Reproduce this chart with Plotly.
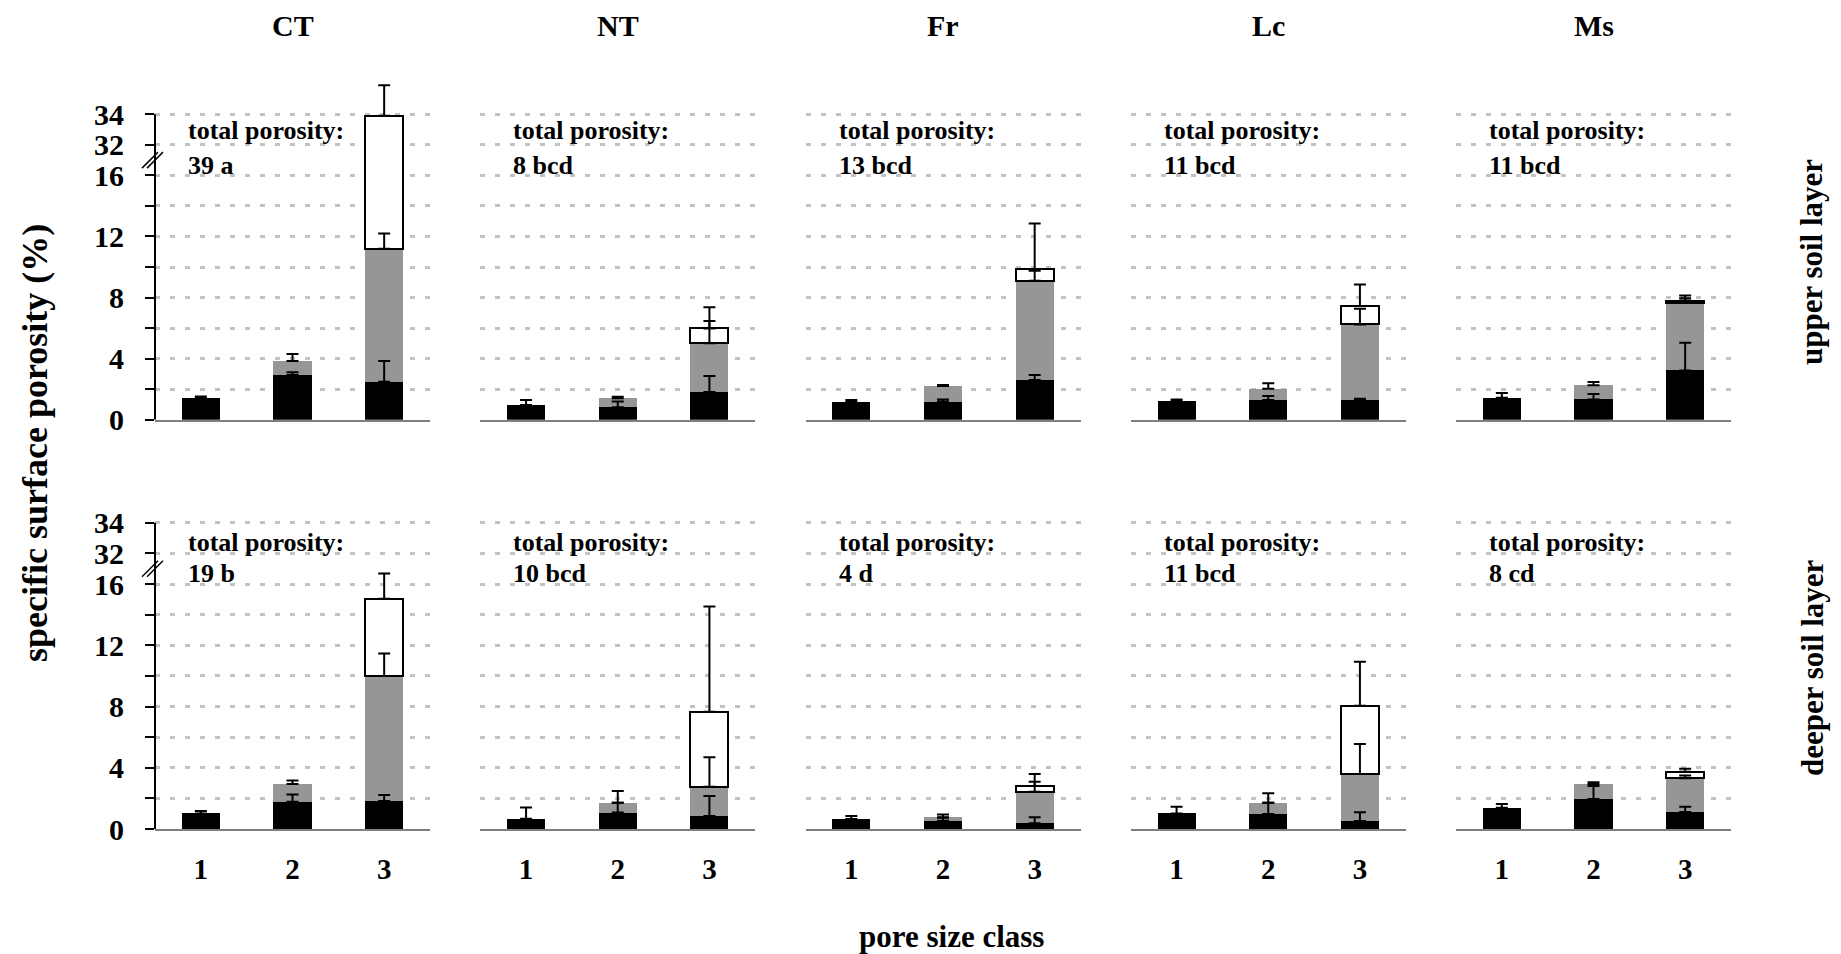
import numpy as np
import plotly.graph_objects as go

# ---------------- data ----------------
treatments = ["CT", "NT", "Fr", "Lc", "Ms"]
pore_classes = ["1", "2", "3"]
layer_labels = ["upper soil layer", "deeper soil layer"]

# segment heights (%), one list of 3 pore classes per treatment
upper_black = [[1.44, 2.93, 2.49], [0.96, 0.81, 1.81], [1.18, 1.18, 2.60], [1.22, 1.29, 1.29], [1.44, 1.33, 3.23]]
upper_grey = [[0.0, 0.91, 8.71], [0.0, 0.59, 3.19], [0.0, 1.02, 6.50], [0.0, 0.74, 4.95], [0.0, 0.92, 4.43]]
upper_white = [[0.0, 0.0, 22.70], [0.0, 0.0, 0.98], [0.0, 0.0, 0.75], [0.0, 0.0, 1.21], [0.0, 0.0, 0.14]]
upper_black_err = [[0.08, 0.17, 1.35], [0.33, 0.39, 1.05], [0.11, 0.15, 0.33], [0.11, 0.26, 0.08], [0.31, 0.35, 1.81]]
upper_grey_err = [[0.0, 0.46, 1.00], [0.0, 0.10, 1.46], [0.0, 0.07, 0.65], [0.0, 0.35, 1.03], [0.0, 0.22, 0.29]]
upper_white_err = [[0.0, 0.0, 2.00], [0.0, 0.0, 1.38], [0.0, 0.0, 3.00], [0.0, 0.0, 1.41], [0.0, 0.0, 0.34]]

deeper_black = [[1.02, 1.78, 1.83], [0.67, 1.07, 0.85], [0.65, 0.54, 0.37], [1.02, 0.98, 0.52], [1.39, 1.96, 1.11]]
deeper_grey = [[0.0, 1.16, 8.16], [0.0, 0.65, 1.91], [0.0, 0.22, 2.07], [0.0, 0.74, 3.07], [0.0, 0.98, 2.20]]
deeper_white = [[0.0, 0.0, 5.05], [0.0, 0.0, 4.90], [0.0, 0.0, 0.37], [0.0, 0.0, 4.46], [0.0, 0.0, 0.43]]
deeper_black_err = [[0.16, 0.48, 0.39], [0.74, 0.65, 1.30], [0.20, 0.20, 0.39], [0.44, 0.74, 0.57], [0.24, 0.85, 0.35]]
deeper_grey_err = [[0.0, 0.22, 1.48], [0.0, 0.76, 1.92], [0.0, 0.18, 0.65], [0.0, 0.61, 1.96], [0.0, 0.11, 0.19]]
deeper_white_err = [[0.0, 0.0, 1.65], [0.0, 0.0, 6.88], [0.0, 0.0, 0.78], [0.0, 0.0, 2.87], [0.0, 0.0, 0.20]]

total_upper = ["39 a", "8 bcd", "13 bcd", "11 bcd", "11 bcd"]
total_deeper = ["19 b", "10 bcd", "4 d", "11 bcd", "8 cd"]

low_ticks = [0, 2, 4, 6, 8, 10, 12, 14, 16]
low_labels = ["0", "", "4", "", "8", "", "12", "", "16"]
up_ticks = [32, 34]
up_labels = ["32", "34"]

# ---------------- layout geometry (px in the photographed page) ----------------
W, H = 1841, 954
PAGE_OFFSET = 8.0          # default body margin of the html page
COL_X0, COL_PITCH, PANEL_W = 155.0, 325.25, 275.0
ROW_ZERO = [419.7, 829.0]
PPU = [15.27, 15.31]
LOW_MAX = 17.0
UP_MIN = 31.0
UP_MAX = [36.3, 34.5]

FONT = "Liberation Serif"
BLACK, GREY, GRIDC = "#000000", "#969696", "#c3c3c3"
PAD = "\u00a0\u00a0"


def px_x(p):
    return (p - PAGE_OFFSET) / W


def px_y(p):
    return 1 - (p - PAGE_OFFSET) / H


rows = [
    (upper_black, upper_grey, upper_white, upper_black_err, upper_grey_err, upper_white_err, total_upper),
    (deeper_black, deeper_grey, deeper_white, deeper_black_err, deeper_grey_err, deeper_white_err, total_deeper),
]

fig = go.Figure()
layout = {}
shapes = []
annotations = []

for r, (blk, gry, wht, blk_e, gry_e, wht_e, totals) in enumerate(rows):
    zero = ROW_ZERO[r]
    ppu = PPU[r]
    brk_px = zero - LOW_MAX * ppu
    top_px = brk_px - (UP_MAX[r] - UP_MIN) * ppu
    for c in range(5):
        idx = r * 5 + c
        n_low, n_up = 2 * idx + 1, 2 * idx + 2
        x0 = COL_X0 + c * COL_PITCH
        xdom = [px_x(x0), px_x(x0 + PANEL_W)]

        b = np.array(blk[c], dtype=float)
        g = np.array(gry[c], dtype=float)
        w = np.array(wht[c], dtype=float)
        tops = [b, b + g, b + g + w]
        segs = [b, g, w]
        errs = [np.array(blk_e[c]), np.array(gry_e[c]), np.array(wht_e[c])]

        for n, sub in ((n_low, "low"), (n_up, "up")):
            xr = "x" if n == 1 else f"x{n}"
            yr = "y" if n == 1 else f"y{n}"
            for seg, col in zip(segs, [BLACK, GREY, "#ffffff"]):
                fig.add_trace(go.Bar(
                    x=pore_classes,
                    y=[v if v > 0 else None for v in seg],
                    marker=dict(color=col,
                                line=dict(color=BLACK, width=2 if col == "#ffffff" else 0)),
                    xaxis=xr, yaxis=yr, showlegend=False, hoverinfo="skip",
                ))
            for seg, top, err in zip(segs, tops, errs):
                ys = []
                for k in range(3):
                    ok = seg[k] > 0 and err[k] > 0
                    if sub == "low":
                        ok = ok and top[k] <= LOW_MAX
                    else:
                        ok = ok and top[k] >= UP_MIN
                    ys.append(float(top[k]) if ok else None)
                fig.add_trace(go.Scatter(
                    x=pore_classes, y=ys, mode="markers",
                    marker=dict(size=1, color="rgba(0,0,0,0)"),
                    error_y=dict(type="data", array=list(err), arrayminus=[0, 0, 0],
                                 symmetric=False, color=BLACK, thickness=2, width=6),
                    xaxis=xr, yaxis=yr, showlegend=False, hoverinfo="skip",
                ))

        xname_low = "xaxis" if n_low == 1 else f"xaxis{n_low}"
        layout[xname_low] = dict(
            domain=xdom, anchor=f"y{n_low}" if n_low > 1 else "y",
            type="category", categoryorder="array", categoryarray=pore_classes,
            range=[-0.5, 2.5], showline=True, linecolor="#7f7f7f", linewidth=2,
            showgrid=False, zeroline=False, ticks="",
            showticklabels=(r == 1), ticklabelstandoff=13, automargin=False,
            tickfont=dict(family=FONT, size=29, color=BLACK, weight="bold"),
            fixedrange=True,
        )
        layout[f"xaxis{n_up}"] = dict(
            domain=xdom, anchor=f"y{n_up}", type="category", categoryorder="array",
            categoryarray=pore_classes, range=[-0.5, 2.5], visible=False, fixedrange=True,
            automargin=False,
        )
        common_y = dict(
            showgrid=True, gridcolor=GRIDC, gridwidth=2.5, griddash="5px,10px",
            zeroline=False, showline=False, fixedrange=True, automargin=False,
            ticks="outside" if c == 0 else "", ticklen=9, tickwidth=2, tickcolor=BLACK,
            showticklabels=(c == 0),
            tickfont=dict(family=FONT, size=30, color=BLACK, weight="bold"),
        )
        layout[f"yaxis{n_low}" if n_low > 1 else "yaxis"] = dict(
            domain=[px_y(zero), px_y(brk_px)], anchor=f"x{n_low}" if n_low > 1 else "x",
            range=[0, LOW_MAX], tickmode="array", tickvals=low_ticks,
            ticktext=[t + PAD if t else t for t in low_labels],
            **common_y,
        )
        layout[f"yaxis{n_up}"] = dict(
            domain=[px_y(brk_px), px_y(top_px)], anchor=f"x{n_up}",
            range=[UP_MIN, UP_MAX[r]], tickmode="array", tickvals=up_ticks,
            ticktext=[t + PAD for t in up_labels],
            **common_y,
        )

        if c == 0:
            shapes.append(dict(type="line", xref="paper", x0=px_x(x0), x1=px_x(x0),
                               yref="y" if n_low == 1 else f"y{n_low}", y0=0, y1=LOW_MAX,
                               line=dict(color=BLACK, width=2)))
            shapes.append(dict(type="line", xref="paper", x0=px_x(x0), x1=px_x(x0),
                               yref=f"y{n_up}", y0=UP_MIN, y1=max(up_ticks),
                               line=dict(color=BLACK, width=2)))
            for k in range(2):
                shapes.append(dict(type="line", xref="paper", yref="paper",
                                   x0=px_x(x0 - 13 + 5 * k), y0=px_y(brk_px + 8),
                                   x1=px_x(x0 + 3 + 5 * k), y1=px_y(brk_px - 8),
                                   line=dict(color=BLACK, width=1.5)))

        line1_px = [131, 542][r]
        line2_px = [165, 573][r]
        for txt, ypx in (("total porosity:", line1_px), (totals[c], line2_px)):
            annotations.append(dict(
                text=f"<b>{txt}</b>", xref="paper", yref="paper",
                x=px_x(x0 + 31), y=px_y(ypx), xanchor="left", yanchor="middle",
                showarrow=False, font=dict(family=FONT, size=26, color=BLACK),
            ))
        if r == 0:
            annotations.append(dict(
                text=f"<b>{treatments[c]}</b>", xref="paper", yref="paper",
                x=px_x(x0 + PANEL_W / 2), y=1.0, xanchor="center", yanchor="top",
                borderpad=0, showarrow=False, font=dict(family=FONT, size=30, color=BLACK),
            ))

for r, ypx in enumerate([262, 668]):
    annotations.append(dict(
        text=f"<b>{layer_labels[r]}</b>", xref="paper", yref="paper",
        x=px_x(1812), y=px_y(ypx), xanchor="center", yanchor="middle", textangle=-90,
        showarrow=False, font=dict(family=FONT, size=31, color=BLACK),
    ))

annotations.append(dict(
    text="<b>specific surface porosity (%)</b>", xref="paper", yref="paper",
    x=px_x(35), y=px_y(443), xanchor="center", yanchor="middle", textangle=-90,
    showarrow=False, font=dict(family=FONT, size=36, color=BLACK),
))
annotations.append(dict(
    text="<b>pore size class</b>", xref="paper", yref="paper",
    x=px_x(951), y=px_y(936), xanchor="center", yanchor="middle",
    showarrow=False, font=dict(family=FONT, size=31, color=BLACK),
))

fig.update_layout(
    width=W, height=H, margin=dict(l=0, r=0, t=0, b=0, pad=0, autoexpand=False),
    paper_bgcolor="white", plot_bgcolor="white",
    barmode="stack", bargap=0.585, showlegend=False,
    shapes=shapes, annotations=annotations,
    **layout,
)

fig.write_html("out.html")
